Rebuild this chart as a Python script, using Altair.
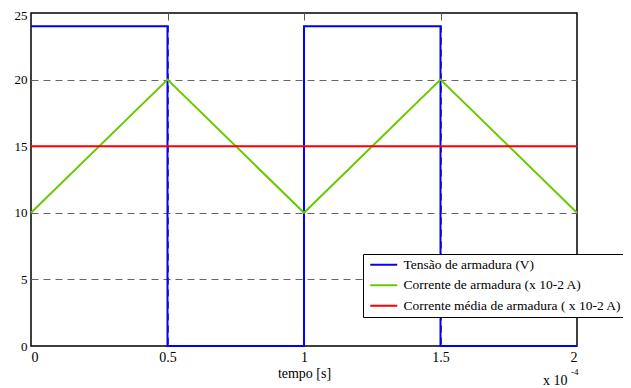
import altair as alt
import pandas as pd

# data (time in units of 1e-4 s)
series_names = ["Tensão de armadura (V)", "Corrente de armadura (x 10-2 A)", "Corrente média de armadura ( x 10-2 A)"]
series_colors = ["#0000ff", "#66cc00", "#ff0000"]

t_tensao = [0, 0.5, 0.5, 1, 1, 1.5, 1.5, 2]
v_tensao = [24, 24, 0, 0, 24, 24, 0, 0]
t_corrente = [0, 0.5, 1, 1.5, 2]
v_corrente = [10, 20, 10, 20, 10]
t_media = [0, 2]
v_media = [15, 15]

x_ticks = [0, 0.5, 1, 1.5, 2]
y_ticks = [0, 5, 10, 15, 20, 25]

rows = []
for i, (ts, vs) in enumerate([(t_tensao, v_tensao), (t_corrente, v_corrente), (t_media, v_media)]):
    for k, (t, v) in enumerate(zip(ts, vs)):
        rows.append({"serie": series_names[i], "t": t, "v": v, "ord": k})
df = pd.DataFrame(rows)

FONT = "Liberation Serif"

lines = alt.Chart(df).mark_line(strokeWidth=2, clip=False).encode(
    x=alt.X("t:Q", scale=alt.Scale(domain=[0, 2], nice=False, zero=False),
            axis=alt.Axis(values=x_ticks, format=".1~f", title="tempo [s]",
                          grid=True, gridDash=[7, 5], gridColor="#555555",
                          gridOpacity={"condition": {"test": "datum.value <= 0 || datum.value >= 2", "value": 0}, "value": 1},
                          domain=False, ticks=False, labelPadding=4, titlePadding=2,
                          labelFont=FONT, labelFontSize=14, labelColor="black",
                          titleFont=FONT, titleFontSize=14, titleFontWeight="normal",
                          titleColor="black", zindex=0)),
    y=alt.Y("v:Q", scale=alt.Scale(domain=[0, 25], nice=False),
            axis=alt.Axis(values=y_ticks, title=None,
                          grid=True, gridDash=[7, 5], gridColor="#666666",
                          gridOpacity={"condition": {"test": "datum.value <= 0 || datum.value >= 25", "value": 0}, "value": 1},
                          labelOffset={"condition": {"test": "datum.value >= 25", "value": 2}, "value": 0},
                          domain=False, ticks=False, labelPadding=4,
                          labelFont=FONT, labelFontSize=13, labelColor="black", zindex=0)),
    color=alt.Color("serie:N", scale=alt.Scale(domain=series_names, range=series_colors),
                    legend=alt.Legend(title=None, orient="none", legendX=332, legendY=241,
                                      fillColor="white", strokeColor="black", padding=4,
                                      cornerRadius=0, symbolType="M-0.78,0L5.22,0", symbolSize=81,
                                      symbolStrokeWidth=2, rowPadding=5.5, labelOffset=23,
                                      labelFont=FONT, labelFontSize=13.5, labelColor="black",
                                      labelLimit=400)),
    order="ord:Q",
    detail="serie:N",
)

exp_df = pd.DataFrame({"a": ["x 10"], "b": ["-4"]})
exp_text = alt.Chart(exp_df).mark_text(font=FONT, fontSize=14, align="left", baseline="alphabetic",
                                       color="black").encode(
    x=alt.value(512), y=alt.value(372), text="a:N")
exp_sup = alt.Chart(exp_df).mark_text(font=FONT, fontSize=9, align="left", baseline="middle",
                                      color="black").encode(
    x=alt.value(540), y=alt.value(359), text="b:N")

chart = alt.layer(lines, exp_text, exp_sup).properties(
    width=546, height=333,
    background="white",
    autosize=alt.AutoSizeParams(type="none"),
    padding={"left": 23, "top": 5, "right": 46, "bottom": 42},
).configure_view(stroke="black", strokeWidth=1.5)

chart.save("out.html", embed_options={"renderer": "svg", "actions": False})
